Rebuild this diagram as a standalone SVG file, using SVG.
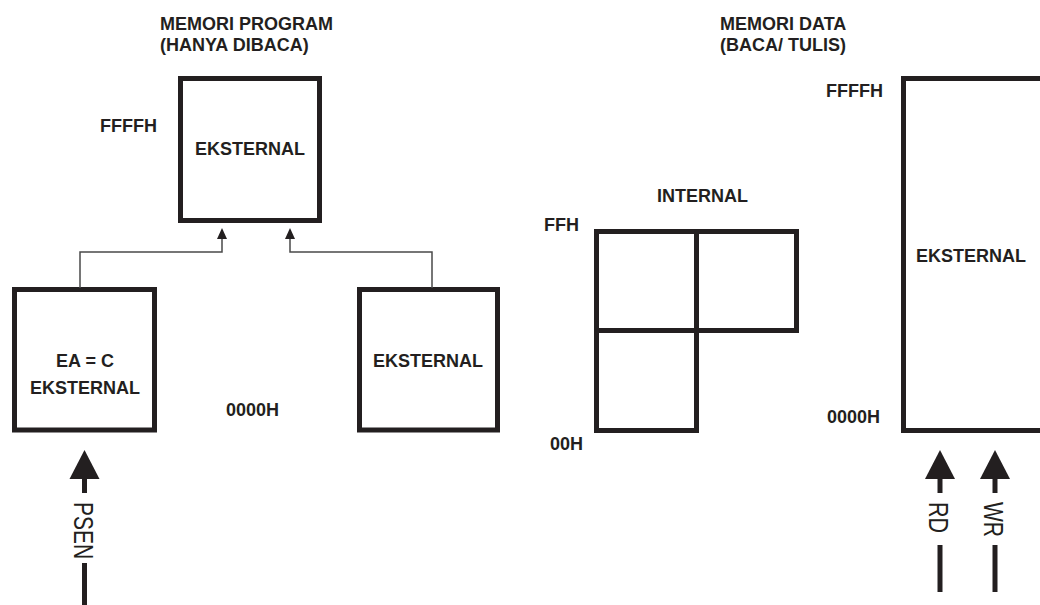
<svg xmlns="http://www.w3.org/2000/svg" width="1040" height="605" viewBox="0 0 1040 605">
<style>
.box{fill:none;stroke:#231f20;stroke-width:5}
.lbl{font-family:"Liberation Sans",Arial,sans-serif;font-weight:bold;font-size:18px;fill:#231f20}
.sig{font-family:"Liberation Sans",Arial,sans-serif;font-size:27px;fill:#231f20}
.thin{fill:none;stroke:#4a4a4a;stroke-width:1.5}
.thick{fill:none;stroke:#231f20;stroke-width:5}
.head{fill:#231f20}
</style>
<rect width="1040" height="605" fill="#fff"/>
<g id="titles">
<text class="lbl" x="160" y="30">MEMORI PROGRAM</text>
<text class="lbl" x="160" y="51">(HANYA DIBACA)</text>
<text class="lbl" x="720" y="30">MEMORI DATA</text>
<text class="lbl" x="720" y="51">(BACA/ TULIS)</text>
</g>
<g id="address-labels">
<text class="lbl" x="100" y="132">FFFFH</text>
<text class="lbl" x="226" y="416">0000H</text>
<text class="lbl" x="544" y="231">FFH</text>
<text class="lbl" x="550" y="450">00H</text>
<text class="lbl" x="826" y="97">FFFFH</text>
<text class="lbl" x="827" y="423">0000H</text>
</g>
<g id="prog-ext-top">
<rect class="box" x="180.5" y="78.5" width="139" height="142"/>
<text class="lbl" x="250" y="155" text-anchor="middle">EKSTERNAL</text>
</g>
<g id="prog-ea">
<rect class="box" x="14.5" y="289.5" width="140" height="140.5"/>
<text class="lbl" x="85" y="367" text-anchor="middle">EA = C</text>
<text class="lbl" x="85" y="394" text-anchor="middle">EKSTERNAL</text>
</g>
<g id="prog-ext-right">
<rect class="box" x="359.5" y="289.5" width="138" height="140.5"/>
<text class="lbl" x="428" y="367" text-anchor="middle">EKSTERNAL</text>
</g>
<g id="data-internal">
<text class="lbl" x="657" y="202">INTERNAL</text>
<rect class="box" x="596.5" y="231.5" width="100" height="99"/>
<rect class="box" x="696.5" y="231.5" width="100" height="99"/>
<rect class="box" x="596.5" y="330.5" width="100" height="100"/>
</g>
<g id="data-external">
<rect class="box" x="903.5" y="78.5" width="200" height="352"/>
<text class="lbl" x="916" y="262">EKSTERNAL</text>
</g>
<g id="connectors">
<path class="thin" d="M80 288 V252 H222 V238"/>
<path class="head" d="M222 228 L227 239 L217 239 Z"/>
<path class="thin" d="M432 288 V252 H290 V238"/>
<path class="head" d="M290 228 L295 239 L285 239 Z"/>
<path class="head" d="M84.5 450 L99.5 479 L69.5 479 Z"/>
<line class="thick" x1="84.5" y1="478" x2="84.5" y2="493"/>
<line class="thick" x1="84.5" y1="563" x2="84.5" y2="605"/>
<path class="head" d="M940 450 L955 479 L925 479 Z"/>
<line class="thick" x1="940" y1="478" x2="940" y2="493"/>
<line class="thick" x1="940" y1="545" x2="940" y2="592"/>
<path class="head" d="M995 450 L1010 479 L980 479 Z"/>
<line class="thick" x1="995" y1="478" x2="995" y2="493"/>
<line class="thick" x1="995" y1="545" x2="995" y2="592"/>
</g>
<g id="signals">
<text class="sig" transform="translate(74,502) rotate(90)" textLength="57" lengthAdjust="spacingAndGlyphs">PSEN</text>
<text class="sig" transform="translate(929,502) rotate(90)" textLength="31" lengthAdjust="spacingAndGlyphs">RD</text>
<text class="sig" transform="translate(984,502) rotate(90)" textLength="35" lengthAdjust="spacingAndGlyphs">WR</text>
</g>
</svg>
